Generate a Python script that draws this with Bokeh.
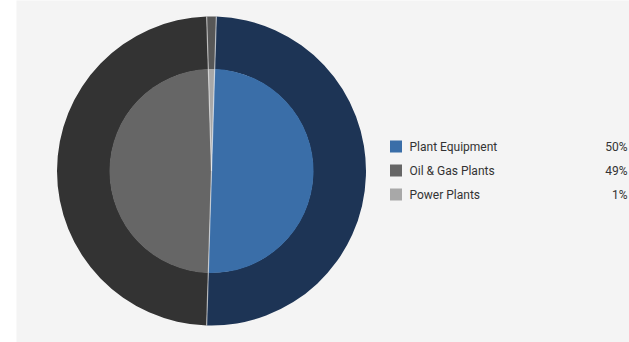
import numpy as np
from bokeh.plotting import figure
from bokeh.models import Range1d, ColumnDataSource
from bokeh.core.properties import value
from bokeh.embed import file_html
from bokeh.resources import INLINE

# ---- data ----
categories = ["Plant Equipment", "Oil & Gas Plants", "Power Plants"]
shares = [50, 49, 1]
pct_labels = ["50%", "49%", "1%"]
inner_colors = ["#3a6ea8", "#666666", "#a8a8a8"]
outer_colors = ["#1d3455", "#333333", "#575757"]
draw_order = [2, 0, 1]  # clockwise from top: Power Plants, Plant Equipment, Oil & Gas

W, H = 629, 342
p = figure(width=W, height=H, output_backend="svg", toolbar_location=None,
           x_range=Range1d(16, W), y_range=Range1d(0, H),
           min_border_left=16, min_border_right=0, min_border_top=0, min_border_bottom=0)
p.axis.visible = False
p.grid.visible = False
p.outline_line_color = None
p.background_fill_color = "#f4f4f4"
p.border_fill_color = "#ffffff"

cx, cy = 211, H - 170.5
R_out, R_in = 154.5, 102
start_deg = -1.8
vals = np.array([shares[i] for i in draw_order], dtype=float)
ends = start_deg + np.cumsum(vals) / vals.sum() * 360.0
starts = ends - vals / vals.sum() * 360.0
b_start = np.radians(90 - ends)
b_end = np.radians(90 - starts)

src = ColumnDataSource(dict(
    x=[cx] * 3, y=[cy] * 3, s=b_start, e=b_end,
    inner=[inner_colors[i] for i in draw_order],
    outer=[outer_colors[i] for i in draw_order],
))

p.annular_wedge(x="x", y="y", inner_radius=R_in - 0.5, outer_radius=R_out,
                inner_radius_units="screen", outer_radius_units="screen",
                start_angle="s", end_angle="e", fill_color="outer",
                line_color=None, source=src)
p.wedge(x="x", y="y", radius=R_in, radius_units="screen",
        start_angle="s", end_angle="e", fill_color="inner",
        line_color=None, source=src)

# radial separators
ang = b_start
p.segment(x0=[cx] * 3, y0=[cy] * 3,
          x1=list(cx + R_out * np.cos(ang)), y1=list(cy + R_out * np.sin(ang)),
          line_color="#ffffff", line_alpha=0.55, line_width=1.2)

# legend
row_y = [H - (146 + 24 * i) for i in range(len(categories))]
p.rect(x=[395.5] * 3, y=row_y, width=12, height=12, width_units="screen",
       height_units="screen", fill_color=inner_colors, line_color=None)
p.text(x=[409] * 3, y=row_y, text=categories, text_font=value("Roboto"),
       text_font_size="12px", text_color="#333333", text_baseline="middle",
       text_align="left")
p.text(x=[627] * 3, y=row_y, text=pct_labels, text_font=value("Roboto"),
       text_font_size="12px", text_color="#333333", text_baseline="middle",
       text_align="right")

open("out.html", "w").write(file_html(p, INLINE))
